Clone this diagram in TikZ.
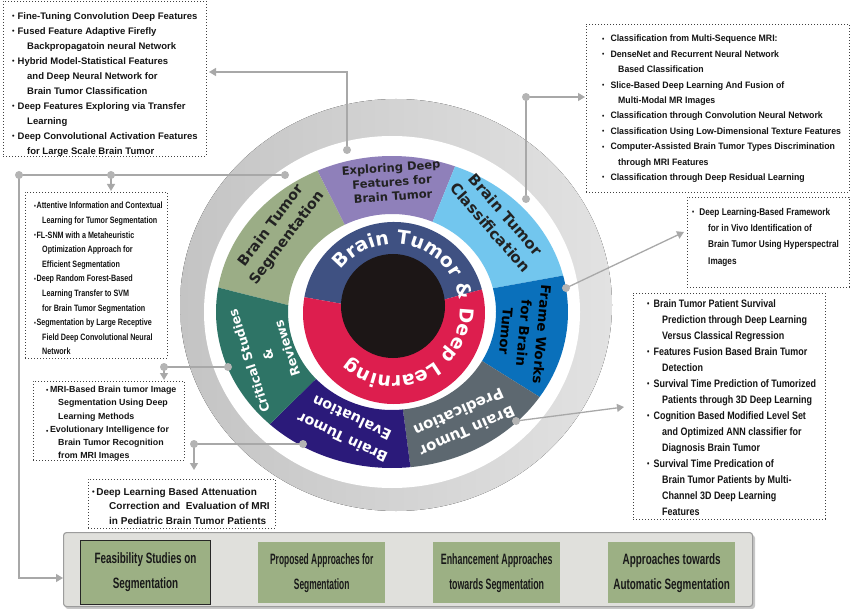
\documentclass[tikz,border=0pt]{standalone}
\usepackage{fontspec}
\usepackage{graphicx}
\usetikzlibrary{calc,arrows.meta,decorations.text}
\setmainfont{Liberation Sans}
\newfontfamily\plainbold{Liberation Sans}
\newfontfamily\condA[FakeStretch=0.94]{Liberation Sans}
\newfontfamily\condB[FakeStretch=0.78]{Liberation Sans}
\newfontfamily\condD[FakeStretch=0.84]{Liberation Sans}
\newfontfamily\condE[FakeStretch=0.83]{Liberation Sans}
\newfontfamily\condC[FakeStretch=0.66]{Liberation Sans}
\newfontfamily\condCa[FakeStretch=0.56]{Liberation Sans}
\newfontfamily\condCb[FakeStretch=0.59]{Liberation Sans}
\newfontfamily\wheelfont{DejaVu Sans}
\newcommand\fs[2]{\fontsize{#1}{#2}\selectfont}
\newcommand\bul{\raisebox{0.6pt}{\scalebox{0.75}{•}}}

\definecolor{ringL}{HTML}{C4C4C4}
\definecolor{ringR}{HTML}{E2E2E2}
\definecolor{segGreen}{HTML}{9BAD86}
\definecolor{segPurple}{HTML}{8F80BA}
\definecolor{segSky}{HTML}{72C6EE}
\definecolor{segBlue}{HTML}{0A70BB}
\definecolor{segSlate}{HTML}{5D6870}
\definecolor{segIndigo}{HTML}{2B1A7A}
\definecolor{segTeal}{HTML}{2E7466}
\definecolor{navyRing}{HTML}{3F5182}
\definecolor{redRing}{HTML}{DD1E4E}
\definecolor{coreBlack}{HTML}{1C1616}
\definecolor{darkText}{HTML}{222222}
\definecolor{connGrey}{HTML}{A8A8A8}
\definecolor{dotGrey}{HTML}{B4B4B4}
\definecolor{barFill}{HTML}{E0E0DC}
\definecolor{barDraw}{HTML}{9C9C9C}
\definecolor{cellFill}{HTML}{9CB084}

% one coloured sector of the elliptic wheel:
% outer arc #1 -> #2, inner arc #3 -> #4, fill colour #5
\newcommand\wseg[5]{%
  \fill[#5] (W) ++(#1:176 and 156)
    arc[start angle=#1, end angle=#2, x radius=176, y radius=156]
    -- ($(W)+(#3:104 and 98)$)
    arc[start angle=#3, end angle=#4, x radius=104, y radius=98] -- cycle;}

\begin{document}
\begin{tikzpicture}[x=1pt, y=1pt,
  dotbox/.style={draw=black!75, line width=0.75pt, dash pattern=on 0.75pt off 2.25pt,
    inner sep=0pt, outer sep=0pt, anchor=north west},
  listtext/.style={anchor=north west, align=left, inner sep=0pt, text=black!92},
  conn/.style={draw=connGrey, line width=1.3pt},
  tip/.style={-{Triangle[length=7pt,width=8pt]}},
  jdot/.style={fill=dotGrey},
  wl/.style={align=center, inner sep=0pt},
  cell/.style={fill=cellFill, inner sep=0pt, align=center, text=black!90,
    anchor=north west, minimum width=127pt, minimum height=61pt,
    font=\condC\bfseries\fs{15}{25}}]

\useasboundingbox (0,0) rectangle (850,-609);

% ---------------- wheel ----------------
\coordinate (W) at (392,-312);
\fill[left color=ringL, right color=ringR] (396,-305) ellipse[x radius=216, y radius=206];
\fill[white] (W) ellipse[x radius=188, y radius=176];

\wseg{171}{115}{117}{176}{segGreen}
\wseg{115}{69}{67}{117}{segPurple}
\wseg{69}{13.5}{14}{67}{segSky}
\wseg{13.5}{-33}{-30}{14}{segBlue}
\wseg{-33}{-84}{-84}{-30}{segSlate}
\wseg{-84}{-134}{-137}{-84}{segIndigo}
\wseg{-134}{-189}{-184}{-137}{segTeal}

\coordinate (R) at (394,-313);
\fill[navyRing] (R) ++(15:91) arc[start angle=15, end angle=170, radius=91] -- (R) -- cycle;
\fill[redRing] (R) ++(170:91) arc[start angle=170, end angle=375, radius=91] -- (R) -- cycle;
\fill[coreBlack] (393,-306) circle[radius=52];

\path[decorate, decoration={text along path,
    text={|\wheelfont\bfseries\fs{19}{19}\color{white}|Brain Tumor {\&} Deep Learning},
    text align={align=fit to path stretched}}]
  (394,-310) ++(160:66) arc[start angle=160, end angle=-150, radius=66];

% sector labels
\node[wl, text=darkText, rotate=4, font=\wheelfont\bfseries\fs{11.5}{14.5}] (lExp) at (392,-182)
  {Exploring Deep\\Features for\\Brain Tumor};
\node[wl, text=darkText, rotate=-49, font=\wheelfont\bfseries\fs{15}{20}] (lCls) at (498,-221)
  {Brain Tumor\\Classification};
\node[wl, text=black, rotate=-95, font=\wheelfont\bfseries\fs{13.5}{18}] (lFrm) at (524,-333)
  {Frame Works\\for Brain\\Tumor};
\node[wl, text=white, rotate=204, font=\wheelfont\bfseries\fs{15}{21}] (lPrd) at (463,-422)
  {Brain Tumor\\Predication};
\node[wl, text=white, rotate=155, font=\wheelfont\bfseries\fs{14.3}{22}] (lEvl) at (347,-428)
  {Brain Tumor\\Evaluation};
\node[wl, text=white, rotate=108, font=\wheelfont\bfseries\fs{12.5}{20}] (lCrt) at (268,-355)
  {Critical Studies\\\&\\Reviews};
\node[wl, text=darkText, rotate=53, font=\wheelfont\bfseries\fs{14.3}{20}] (lSeg) at (279,-232)
  {Brain Tumor\\Segmentation};

% ---------------- connectors ----------------
\coordinate (dExp) at (347,-150);  \coordinate (aExp) at (209,-72);
\coordinate (dCls) at (526,-199);  \coordinate (kCls) at (526,-97);  \coordinate (aCls) at (585,-97);
\coordinate (dFrm) at (566,-288);  \coordinate (aFrm) at (684,-232);
\coordinate (dPrd) at (516,-421);  \coordinate (aPrd) at (624,-407);
\coordinate (dSeg) at (285,-175);  \coordinate (kSeg) at (19,-175);
\coordinate (jSeg) at (111,-175);  \coordinate (aSeg) at (111,-191);
\coordinate (aBar) at (63,-578);
\coordinate (dCrt) at (228,-367);  \coordinate (jCrt) at (164,-367);  \coordinate (aCrt) at (164,-380);
\coordinate (dEvl) at (303,-444);  \coordinate (jEvl) at (194,-444);  \coordinate (aEvl) at (194,-470);

\draw[conn, tip] (dExp) |- (aExp);
\draw[conn, tip] (dCls) |- (aCls);
\draw[conn, tip] (dFrm) -- (aFrm);
\draw[conn, tip] (dPrd) -- (aPrd);
\draw[conn] (dSeg) -- (kSeg);
\draw[conn, tip] (kSeg) |- (aBar);
\draw[conn, tip] (jSeg) -- (aSeg);
\draw[conn] (dCrt) -- (jCrt);
\draw[conn, tip] (jCrt) -- (aCrt);
\draw[conn] (dEvl) -- (jEvl);
\draw[conn, tip] (jEvl) -- (aEvl);

\foreach \p in {dExp,dCls,kCls,dFrm,dPrd,dSeg,kSeg,jSeg,dCrt,jCrt,dEvl,jEvl}
  \fill[jdot] (\p) circle[radius=4];

% ---------------- reference lists ----------------
\node[dotbox, minimum width=203pt, minimum height=155pt] (bA) at (3,-1) {};
\node[listtext, font=\plainbold\bfseries\fs{9.5}{15}] (tA) at (12,-12) {%
\bul\hspace{3pt}Fine-Tuning Convolution Deep Features\\
\bul\hspace{3pt}Fused Feature Adaptive Firefly\\
\hspace*{15pt}Backpropagatoin neural Network\\
\bul\hspace{3pt}Hybrid Model-Statistical Features\\
\hspace*{15pt}and Deep Neural Network for\\
\hspace*{15pt}Brain Tumor Classification\\
\bul\hspace{3pt}Deep Features Exploring via Transfer\\
\hspace*{15pt}Learning\\
\bul\hspace{3pt}Deep Convolutional Activation Features\\
\hspace*{15pt}for Large Scale Brain Tumor};

\node[dotbox, minimum width=263pt, minimum height=168pt] (bB) at (586,-24) {};
\node[listtext, font=\condA\bfseries\fs{9.3}{15.4}] (tB) at (602,-35) {%
\bul\hspace{6pt}Classification from Multi-Sequence MRI:\\
\bul\hspace{6pt}DenseNet and Recurrent Neural Network\\
\hspace*{16pt}Based Classification\\
\bul\hspace{6pt}Slice-Based Deep Learning And Fusion of\\
\hspace*{16pt}Multi-Modal MR Images\\
\bul\hspace{6pt}Classification through Convolution Neural Network\\
\bul\hspace{6pt}Classification Using Low-Dimensional Texture Features\\
\bul\hspace{6pt}Computer-Assisted Brain Tumor Types Discrimination\\
\hspace*{16pt}through MRI Features\\
\bul\hspace{6pt}Classification through Deep Residual Learning};

\node[dotbox, minimum width=142pt, minimum height=166pt] (bC) at (25,-192) {};
\node[listtext, font=\condB\bfseries\fs{9.2}{14.6}] (tC) at (34,-202) {%
\bul\hspace{0.5pt}Attentive Information and Contextual\\
\hspace*{8pt}Learning for Tumor Segmentation\\
\bul\hspace{0.5pt}FL-SNM with a Metaheuristic\\
\hspace*{8pt}Optimization Approach for\\
\hspace*{8pt}Efficient Segmentation\\
\bul\hspace{0.5pt}Deep Random Forest-Based\\
\hspace*{8pt}Learning Transfer to SVM\\
\hspace*{8pt}for Brain Tumor Segmentation\\
\bul\hspace{0.5pt}Segmentation by Large Receptive\\
\hspace*{8pt}Field Deep Convolutional Neural\\
\hspace*{8pt}Network};

\node[dotbox, minimum width=162pt, minimum height=90pt] (bD) at (687,-197) {};
\node[listtext, font=\condD\bfseries\fs{9.8}{16.3}] (tD) at (692,-208) {%
\bul\hspace{5pt}Deep Learning-Based Framework\\
\hspace*{16pt}for in Vivo Identification of\\
\hspace*{16pt}Brain Tumor Using Hyperspectral\\
\hspace*{16pt}Images};

\node[dotbox, minimum width=192pt, minimum height=226pt] (bE) at (633,-293) {};
\node[listtext, font=\condE\bfseries\fs{10.8}{16}] (tE) at (647,-299) {%
\bul\hspace{4pt}Brain Tumor Patient Survival\\
\hspace*{15pt}Prediction through Deep Learning\\
\hspace*{15pt}Versus Classical Regression\\
\bul\hspace{4pt}Features Fusion Based Brain Tumor\\
\hspace*{15pt}Detection\\
\bul\hspace{4pt}Survival Time Prediction of Tumorized\\
\hspace*{15pt}Patients through 3D Deep Learning\\
\bul\hspace{4pt}Cognition Based Modified Level Set\\
\hspace*{15pt}and Optimized ANN classifier for\\
\hspace*{15pt}Diagnosis Brain Tumor\\
\bul\hspace{4pt}Survival Time Predication of\\
\hspace*{15pt}Brain Tumor Patients by Multi-\\
\hspace*{15pt}Channel 3D Deep Learning\\
\hspace*{15pt}Features};

\node[dotbox, minimum width=151pt, minimum height=79pt] (bF) at (33,-381) {};
\node[listtext, font=\plainbold\bfseries\fs{8.85}{13.2}] (tF) at (46,-386) {%
\bul\hspace{1.5pt}MRI-Based Brain tumor Image\\
\hspace*{12pt}Segmentation Using Deep\\
\hspace*{12pt}Learning Methods\\
\raisebox{-2pt}{\bul}\hspace{1.5pt}Evolutionary Intelligence for\\
\hspace*{12pt}Brain Tumor Recognition\\
\hspace*{12pt}from MRI Images};

\node[dotbox, minimum width=187pt, minimum height=49pt] (bG) at (88,-479) {};
\node[listtext, font=\plainbold\bfseries\fs{10}{14.5}] (tG) at (92,-488) {%
\bul\hspace{1.5pt}Deep Learning Based Attenuation\\
\hspace*{17pt}Correction and\ \ Evaluation of MRI\\
\hspace*{17pt}in Pediatric Brain Tumor Patients};

% ---------------- bottom bar ----------------
\fill[black!22, rounded corners=3pt] (65,-535) rectangle (755,-609);
\node[fill=barFill, draw=barDraw, line width=1.1pt, rounded corners=3pt, anchor=north west,
  minimum width=689pt, minimum height=74pt, inner sep=0pt] (bar) at (63,-532) {};
\node[cell, draw=black!85, line width=1pt, minimum width=130pt, minimum height=64pt] (c1) at (80,-540)
  {Feasibility Studies on\\Segmentation};
\node[cell, font=\condCa\bfseries\fs{15}{25}] (c2) at (258,-542) {Proposed Approaches for\\Segmentation};
\node[cell, font=\condCb\bfseries\fs{15}{25}] (c3) at (433,-542) {Enhancement Approaches\\towards Segmentation};
\node[cell] (c4) at (608,-542) {Approaches towards\\Automatic Segmentation};

\end{tikzpicture}
\end{document}
